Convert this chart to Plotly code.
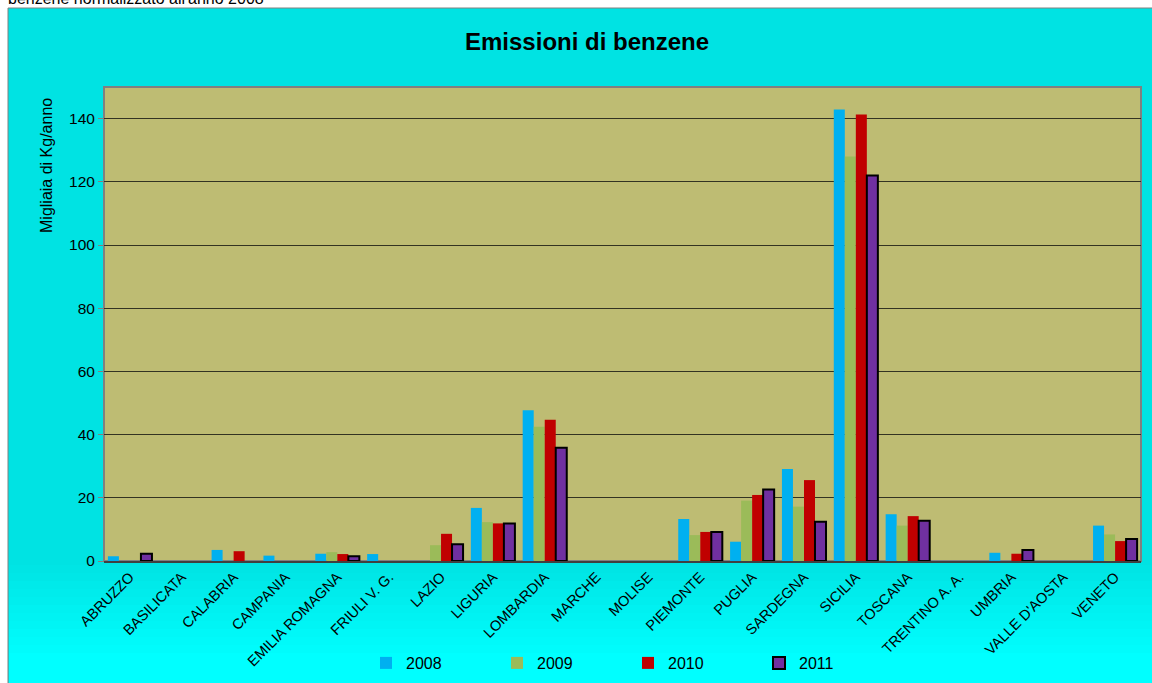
import plotly.graph_objects as go

regions = ["ABRUZZO", "BASILICATA", "CALABRIA", "CAMPANIA", "EMILIA ROMAGNA",
           "FRIULI V. G.", "LAZIO", "LIGURIA", "LOMBARDIA", "MARCHE", "MOLISE",
           "PIEMONTE", "PUGLIA", "SARDEGNA", "SICILIA", "TOSCANA", "TRENTINO A. A.",
           "UMBRIA", "VALLE D'AOSTA", "VENETO"]

v2008 = [1.5, 0, 3.5, 1.7, 2.3, 2.2, 0, 16.8, 47.7, 0, 0, 13.3, 6.1, 29.1, 142.9, 14.8, 0, 2.6, 0, 11.2]
v2009 = [0, 0, 0, 0, 2.8, 0, 5.0, 12.3, 42.5, 0, 0, 8.2, 19.1, 17.2, 128.0, 11.2, 0, 0, 0, 8.4]
v2010 = [0, 0, 3.1, 0, 2.2, 0, 8.6, 11.9, 44.7, 0, 0, 9.2, 20.9, 25.6, 141.3, 14.2, 0, 2.3, 0, 6.3]
v2011 = [2.3, 0, 0, 0, 1.5, 0, 5.3, 11.9, 35.8, 0, 0, 9.2, 22.6, 12.4, 122.0, 12.7, 0, 3.5, 0, 7.0]

years = ["2008", "2009", "2010", "2011"]
series = [v2008, v2009, v2010, v2011]
colors = ["#00B0F0", "#9BBB59", "#C00000", "#7030A0"]

W, H = 1152, 683
L, R, T, B = 104, 1141, 87, 561
FONT = "Liberation Sans, Arial, sans-serif"


def px(x):
    return (x - L) / (R - L)


def py(y):
    return (B - y) / (B - T)


fig = go.Figure()
for name, vals, col in zip(years, series, colors):
    is_last = name == "2011"
    widths = [(2 if (is_last and v > 0) else 0) for v in vals]
    fig.add_trace(go.Bar(
        x=regions, y=vals, name=name,
        marker=dict(color=col,
                    line=dict(color="#000000" if is_last else col, width=widths)),
    ))

shapes = []
shapes.append(dict(type="rect", xref="paper", yref="paper",
                   x0=px(8), x1=px(W + 5), y0=py(H + 5), y1=py(8),
                   fillcolor="#00E3E3", line=dict(color="#808080", width=1),
                   layer="below"))
n = 12
for i in range(n):
    y0p = 565 + i * 8
    c = int(227 + (255 - 227) * (i + 1) / n)
    shapes.append(dict(type="rect", xref="paper", yref="paper",
                       x0=px(9), x1=px(W + 5), y0=py(H + 5), y1=py(y0p),
                       fillcolor=f"rgb(0,{c},{c})", line=dict(width=0),
                       layer="below"))
shapes.append(dict(type="rect", xref="paper", yref="paper",
                   x0=0, x1=1, y0=0, y1=1,
                   fillcolor="#BEBC73", line=dict(color="#808080", width=2),
                   layer="below"))

fig.update_layout(
    width=W, height=H,
    margin=dict(l=L, r=W - R, t=T, b=H - B, pad=0, autoexpand=False),
    paper_bgcolor="#FFFFFF",
    plot_bgcolor="rgba(0,0,0,0)",
    font=dict(family=FONT, size=15, color="#000000"),
    barmode="group", bargap=0.15, bargroupgap=0,
    shapes=shapes,
    showlegend=True,
    legend=dict(orientation="h", x=px(366), xanchor="left",
                y=py(663), yanchor="middle",
                entrywidth=86, entrywidthmode="pixels",
                bgcolor="rgba(0,0,0,0)", font=dict(size=16, family=FONT),
                itemwidth=30, traceorder="normal"),
    annotations=[
        dict(text="<b>Emissioni di benzene</b>", xref="paper", yref="paper",
             x=px(587), y=py(42), xanchor="center", yanchor="middle",
             showarrow=False, font=dict(size=24, family=FONT)),
        dict(text="benzene normalizzato all'anno 2008", xref="paper", yref="paper",
             x=px(6), y=py(9), xanchor="left", yanchor="bottom",
             showarrow=False, font=dict(size=16, family=FONT)),
        dict(text="Migliaia di Kg/anno", xref="paper", yref="paper",
             x=px(46), y=py(166), xanchor="center", yanchor="middle",
             textangle=-90, showarrow=False, font=dict(size=16, family=FONT)),
    ],
    xaxis=dict(tickangle=-45, tickfont=dict(size=14.5, family=FONT),
               showline=True, linecolor="#404040", linewidth=2,
               showgrid=False, ticks="", fixedrange=True, automargin=False),
    yaxis=dict(range=[0, 150], dtick=20, tick0=0,
               tickfont=dict(size=15.5, family=FONT),
               showgrid=True, gridcolor="#333322", gridwidth=1,
               zeroline=False, showline=False, automargin=False,
               ticks="outside", ticklen=5, tickcolor="#808080"),
)

fig.write_html("out.html", config={"displayModeBar": False},
               post_script="document.body.style.margin='0';document.body.style.overflow='hidden';")
